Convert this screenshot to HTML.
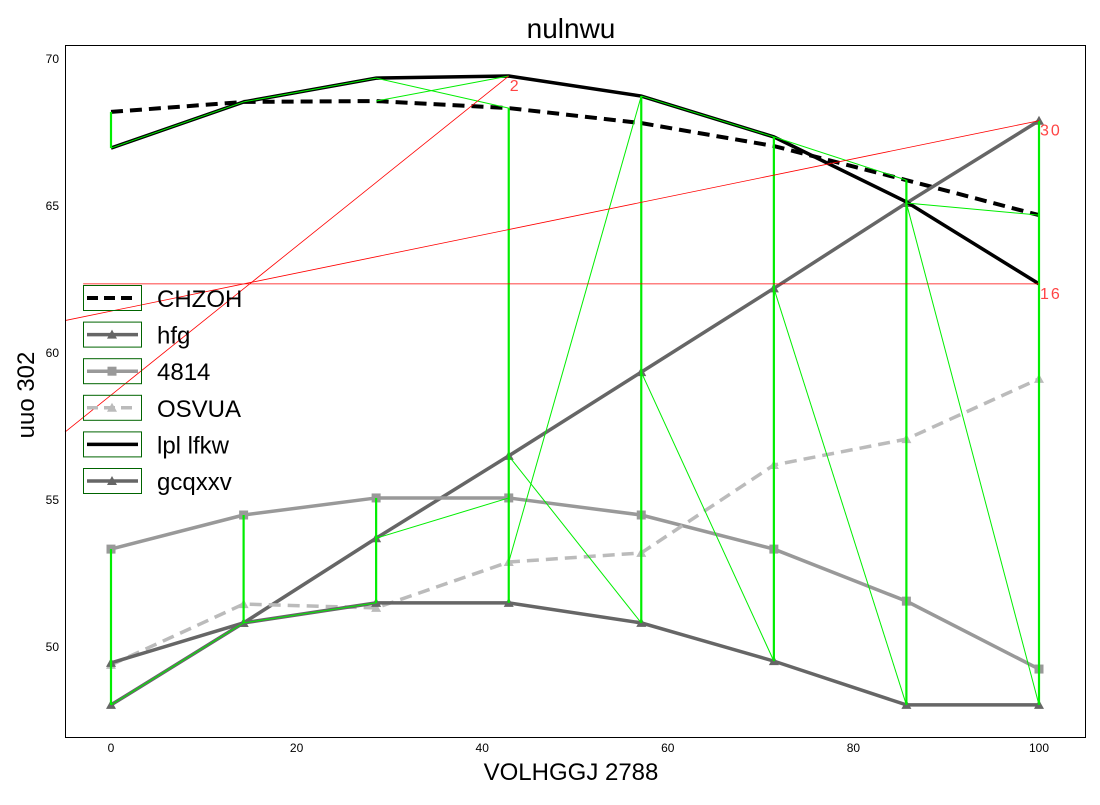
<!DOCTYPE html>
<html><head><meta charset="utf-8"><style>
body{margin:0;background:#fff;}
svg text{font-family:"Liberation Sans",sans-serif;}
</style></head><body>
<svg id="chart" width="1100" height="800" xmlns="http://www.w3.org/2000/svg">
<rect width="1100" height="800" fill="#fff"/>
<text x="571" y="38" font-size="28" text-anchor="middle">nulnwu</text>
<text x="571" y="780" font-size="24" text-anchor="middle">VOLHGGJ 2788</text>
<text transform="translate(34,395) rotate(-90)" font-size="24" text-anchor="middle">uuo 302</text>
<g id="ticks"></g>
<g id="plot"></g>
<rect x="65.5" y="45.5" width="1020" height="692" fill="none" stroke="#000" stroke-width="1"/>
<g id="legend"></g>
</svg>
<script>
const xCats=[0,14.29,28.57,42.86,57.14,71.43,85.71,100];
const seriesNames=["CHZOH","hfg","4814","OSVUA","lpl lfkw","gcqxxv"];
const chzoh=[68.2,68.54,68.57,68.33,67.82,67.04,65.88,64.69];
const hfg=[48.03,50.82,53.7,56.5,59.35,62.2,65.1,67.9];
const s4814=[53.33,54.49,55.07,55.07,54.49,53.33,51.56,49.25];
const osvua=[49.39,51.46,51.33,52.89,53.2,56.19,57.07,59.12];
const lpl=[66.97,68.54,69.35,69.42,68.74,67.35,65.14,62.35];
const gcq=[49.46,50.82,51.5,51.5,50.82,49.52,48.03,48.03];
const xTicks=[0,20,40,60,80,100];
const yTicks=[50,55,60,65,70];
const greenThick=[[0,0,4,0],[2,0,1,0],[2,1,5,1],[2,2,5,2],[0,3,5,3],[4,4,5,4],[4,5,5,5],[0,6,5,6],[1,7,5,7]];
const greenThin=[[4,0,4,1],[4,1,4,2],[4,2,0,3],[0,2,4,3],[1,0,1,1],[5,1,5,2],[1,2,2,3],[1,3,5,4],[3,3,4,4],[4,4,4,5],[4,5,0,6],[1,4,5,5],[1,5,5,6],[1,6,0,7],[1,6,5,7],[4,5,0,5]];
const annLabels=["2","30","16"];
const annTargets=[[4,3],[1,7],[4,7]];
const annStartVals=[[-5,57.3],[-5,61.1],[-3,62.35]];

const all=[chzoh,hfg,s4814,osvua,lpl,gcq];
const X=v=>111+v*9.28;
const Y=v=>59+(70-v)*29.4;
const NS="http://www.w3.org/2000/svg";
function mk(tag,attrs,parent){const e=document.createElementNS(NS,tag);for(const k in attrs)e.setAttribute(k,attrs[k]);parent.appendChild(e);return e;}
const plot=document.getElementById('plot'),ticks=document.getElementById('ticks'),leg=document.getElementById('legend');
xTicks.forEach(t=>{const e=mk('text',{x:X(t),y:752,'font-size':12,'text-anchor':'middle'},ticks);e.textContent=t;

});
yTicks.forEach(t=>{const e=mk('text',{x:59,y:Y(t)+4,'font-size':12,'text-anchor':'end'},ticks);e.textContent=t;

});
const styles=[
 {c:'#000',w:4,d:'12,7',m:null},
 {c:'#666',w:3.5,d:null,m:'tri'},
 {c:'#999',w:3.5,d:null,m:'sq'},
 {c:'#bbb',w:3.5,d:'12,7',m:'tri'},
 {c:'#000',w:3.5,d:null,m:null},
 {c:'#666',w:3.5,d:null,m:'tri'}];
function marker(type,x,y,c,parent){
 if(type==='tri')return mk('polygon',{points:`${x},${y-5} ${x-5},${y+4} ${x+5},${y+4}`,fill:c},parent);
 if(type==='sq')return mk('rect',{x:x-4.5,y:y-4.5,width:9,height:9,fill:c},parent);
}
all.forEach((s,i)=>{
 const st=styles[i];
 const p=mk('polyline',{points:s.map((v,j)=>X(xCats[j])+','+Y(v)).join(' '),fill:'none',stroke:st.c,'stroke-width':st.w},plot);
 if(st.d)p.setAttribute('stroke-dasharray',st.d);
 
 
 if(st.m)s.forEach((v,j)=>{const m=marker(st.m,X(xCats[j]),Y(v),st.c,plot);
  
  });
});
function seg(a,w){const l=mk('line',{x1:X(xCats[a[1]]),y1:Y(all[a[0]][a[1]]),x2:X(xCats[a[3]]),y2:Y(all[a[2]][a[3]]),stroke:'#00ee00','stroke-width':w},plot);return l;}
greenThick.forEach(a=>{const l=seg(a,2.2);
 
 });
greenThin.forEach(a=>{const l=seg(a,1);
 
 });
annLabels.forEach((t,i)=>{
 const tg=annTargets[i],tx=X(xCats[tg[1]]),ty=Y(all[tg[0]][tg[1]]);
 const sv=annStartVals[i];
 let x1=X(sv[0]),y1=Y(sv[1]);
 if(x1<65){const f=(65-x1)/(tx-x1);y1=y1+(ty-y1)*f;x1=65;}
 const l=mk('line',{x1:x1,y1:y1,x2:tx,y2:ty,stroke:'#ff0000','stroke-width':0.8},plot);
 
 
 const e=mk('text',{x:tx+1,y:ty+15,'font-size':16,fill:'#ff4444','letter-spacing':'2'},plot);e.textContent=t;
 
 
});
seriesNames.forEach((n,i)=>{
 const y=298+i*36.6,st=styles[i];
 const g=mk('g',{},leg);
 
 
 mk('rect',{x:83.5,y:y-12.5,width:58,height:25,fill:'none',stroke:'#006400','stroke-width':1},g);
 const l=mk('line',{x1:87,y1:y,x2:138,y2:y,stroke:st.c,'stroke-width':st.w},g);
 if(st.d)l.setAttribute('stroke-dasharray','11,6');
 if(st.m)marker(st.m,112,y,st.c,g);
 const e=mk('text',{x:157,y:y+9,'font-size':24},g);e.textContent=n;
});
</script>
</body></html>
